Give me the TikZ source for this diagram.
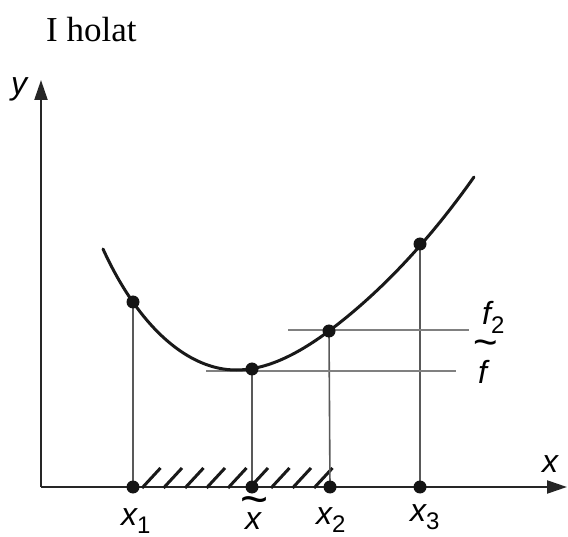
\documentclass[tikz,border=0pt]{standalone}
\usepackage{fontspec}
\setmainfont{Liberation Serif}
\newfontfamily\labfont{Liberation Sans}
\usetikzlibrary{arrows.meta}
\begin{document}
\begin{tikzpicture}[x=1pt,y=-1pt,
  axisline/.style={line width=2.2pt, draw=black!85, -{Triangle[length=20pt,width=13pt]}},
  vguide/.style={line width=1.6pt, draw=black!65},
  hguide/.style={line width=1.8pt, draw=black!50},
  curvestyle/.style={line width=3pt, draw=black!90, line cap=round},
  dotstyle/.style={circle, fill=black!92, inner sep=0pt, minimum size=13pt},
  lab/.style={font=\labfont\itshape\fontsize{32}{32}\selectfont, inner sep=0pt, anchor=base west},
  tildestyle/.style={inner sep=0pt, anchor=base},
  hatchstyle/.style={line width=3pt, draw=black!90}]
\useasboundingbox (0,0) rectangle (568,537);

% title
\node[inner sep=0pt, anchor=base west, font=\fontsize{35}{35}\selectfont] (title) at (46,42) {I holat};

% axes
\coordinate (O) at (41,487);
\coordinate (ytip) at (41,80);
\coordinate (xtip) at (567,487);
\draw[axisline] (O) -- (ytip);
\draw[axisline] (O) -- (xtip);
\node[lab] (ylab) at (11,95) {y};
\node[lab] (xlab) at (542,472) {x};

% points on curve and axis
\coordinate (P1) at (133,302);
\coordinate (P0) at (252,369);
\coordinate (P2) at (329,331);
\coordinate (P3) at (420,244);
\coordinate (A1) at (133,487);
\coordinate (A0) at (252,487);
\coordinate (A2) at (330,487);
\coordinate (A3) at (420,487);

% hatching
\foreach \hx in {142,163.5,...,315} {
  \draw[hatchstyle] (\hx,488) -- ++(18.5,-20);
}

% guides
\draw[vguide] (P1) -- (A1);
\draw[vguide] (P0) -- (A0);
\draw[vguide] (P2) -- (A2);
\draw[vguide] (P3) -- (A3);
\coordinate (fL) at (206,371);
\coordinate (fR) at (456,371);
\coordinate (ftL) at (288,330);
\coordinate (ftR) at (469,330);
\draw[hguide] (fL) -- (fR);
\draw[hguide] (ftL) -- (ftR);

% curve
\coordinate (cS) at (103,249);
\coordinate (cM) at (236,370);
\coordinate (cE) at (474,177);
\draw[curvestyle] (cS) .. controls (140,330) and (190,370) .. (cM)
  .. controls (267,370) and (298,354) .. (P2)
  .. controls (377,295) and (426,245) .. (cE);

% dots
\foreach \p in {P1,P0,P2,P3,A1,A0,A2,A3} {
  \node[dotstyle] at (\p) {};
}

% axis labels
\node[lab] (lx1) at (121,525) {x\raisebox{-8pt}{\upshape\fontsize{24}{24}\selectfont 1}};
\node[tildestyle, font=\labfont\fontsize{48}{48}\selectfont] (ltilde) at (255,515) {\textasciitilde};
\node[lab] (lx0) at (245,529) {x};
\node[lab] (lx2) at (316,524) {x\raisebox{-8pt}{\upshape\fontsize{24}{24}\selectfont 2}};
\node[lab] (lx3) at (410,521) {x\raisebox{-8pt}{\upshape\fontsize{24}{24}\selectfont 3}};

% f labels
\node[lab] (lf2) at (482,325) {f\raisebox{-9pt}{\upshape\fontsize{24}{24}\selectfont 2}};
\node[tildestyle, font=\labfont\fontsize{42}{42}\selectfont] (lftilde) at (486,357) {\textasciitilde};
\node[lab] (lf) at (478,384) {f};
\end{tikzpicture}
\end{document}
